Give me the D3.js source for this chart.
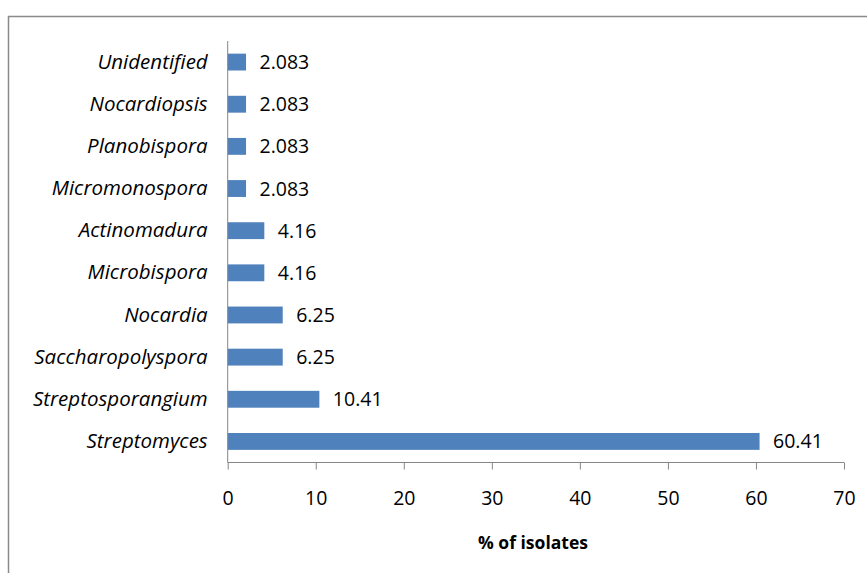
<!DOCTYPE html>
<html>
<head>
<meta charset="utf-8">
<script src="https://cdn.jsdelivr.net/npm/d3@7"></script>
<style>
  html, body { margin: 0; padding: 0; background: #fff; }
  svg { display: block; }
  text { font-family: "Open Sans", "DejaVu Sans", sans-serif; fill: #000; }
</style>
</head>
<body>
<svg id="chart" width="867" height="573"></svg>
<script>
// Genera of actinomycete isolates (top to bottom) and their share in percent
const genera = [
  "Unidentified", "Nocardiopsis", "Planobispora", "Micromonospora",
  "Actinomadura", "Microbispora", "Nocardia", "Saccharopolyspora",
  "Streptosporangium", "Streptomyces"
];
const percentages = [2.083, 2.083, 2.083, 2.083, 4.16, 4.16, 6.25, 6.25, 10.41, 60.41];
const valueLabels = ["2.083", "2.083", "2.083", "2.083", "4.16", "4.16", "6.25", "6.25", "10.41", "60.41"];
const xTicks = [0, 10, 20, 30, 40, 50, 60, 70];
const xTitle = "% of isolates";

const svg = d3.select("#chart");

// Chart frame
svg.append("rect")
  .attr("x", 8.5).attr("y", 16.5)
  .attr("width", 880).attr("height", 580)
  .attr("fill", "none").attr("stroke", "#8a8a8a").attr("stroke-width", 1.5);

const x = d3.scaleLinear().domain([0, 70]).range([227.7, 844]);
const y = d3.scaleBand().domain(genera).range([41, 462.5]).paddingInner(0.6).paddingOuter(0.3);

// Bars
svg.append("g").selectAll("rect")
  .data(genera)
  .join("rect")
  .attr("x", x(0))
  .attr("y", d => y(d))
  .attr("width", (d, i) => x(percentages[i]) - x(0))
  .attr("height", y.bandwidth())
  .attr("fill", "#4f81bd");

// Value labels
svg.append("g").selectAll("text")
  .data(genera)
  .join("text")
  .attr("x", (d, i) => x(percentages[i]) + 13.5)
  .attr("y", d => y(d) + y.bandwidth() / 2)
  .attr("dy", "0.36em")
  .attr("font-size", 19.5)
  .text((d, i) => valueLabels[i]);

// Category axis
const yAxis = svg.append("g")
  .attr("transform", `translate(${x(0)},0)`)
  .call(d3.axisLeft(y).tickSize(0).tickPadding(20));
yAxis.select(".domain").attr("stroke", "#868686").attr("d", `M0,41V462.5`);
yAxis.selectAll("text")
  .attr("font-size", 20.5)
  .attr("font-style", "italic")
  .attr("font-family", "'Open Sans', sans-serif")
  .attr("fill", "#000");

// Value axis
const xAxis = svg.append("g")
  .attr("transform", "translate(0,462.5)")
  .call(d3.axisBottom(x).tickValues(xTicks).tickSize(7).tickPadding(22).tickFormat(d3.format("d")));
xAxis.select(".domain").attr("stroke", "#868686").attr("d", `M${x(0)},0H${x(70)}`);
xAxis.selectAll(".tick line").attr("stroke", "#868686");
xAxis.selectAll("text")
  .attr("font-size", 19.5)
  .attr("font-family", "'Open Sans', sans-serif")
  .attr("fill", "#000");

// Axis title
svg.append("text")
  .attr("x", 533)
  .attr("y", 548.5)
  .attr("text-anchor", "middle")
  .attr("font-size", 17.5)
  .attr("font-weight", "bold")
  .text(xTitle);
</script>
</body>
</html>
